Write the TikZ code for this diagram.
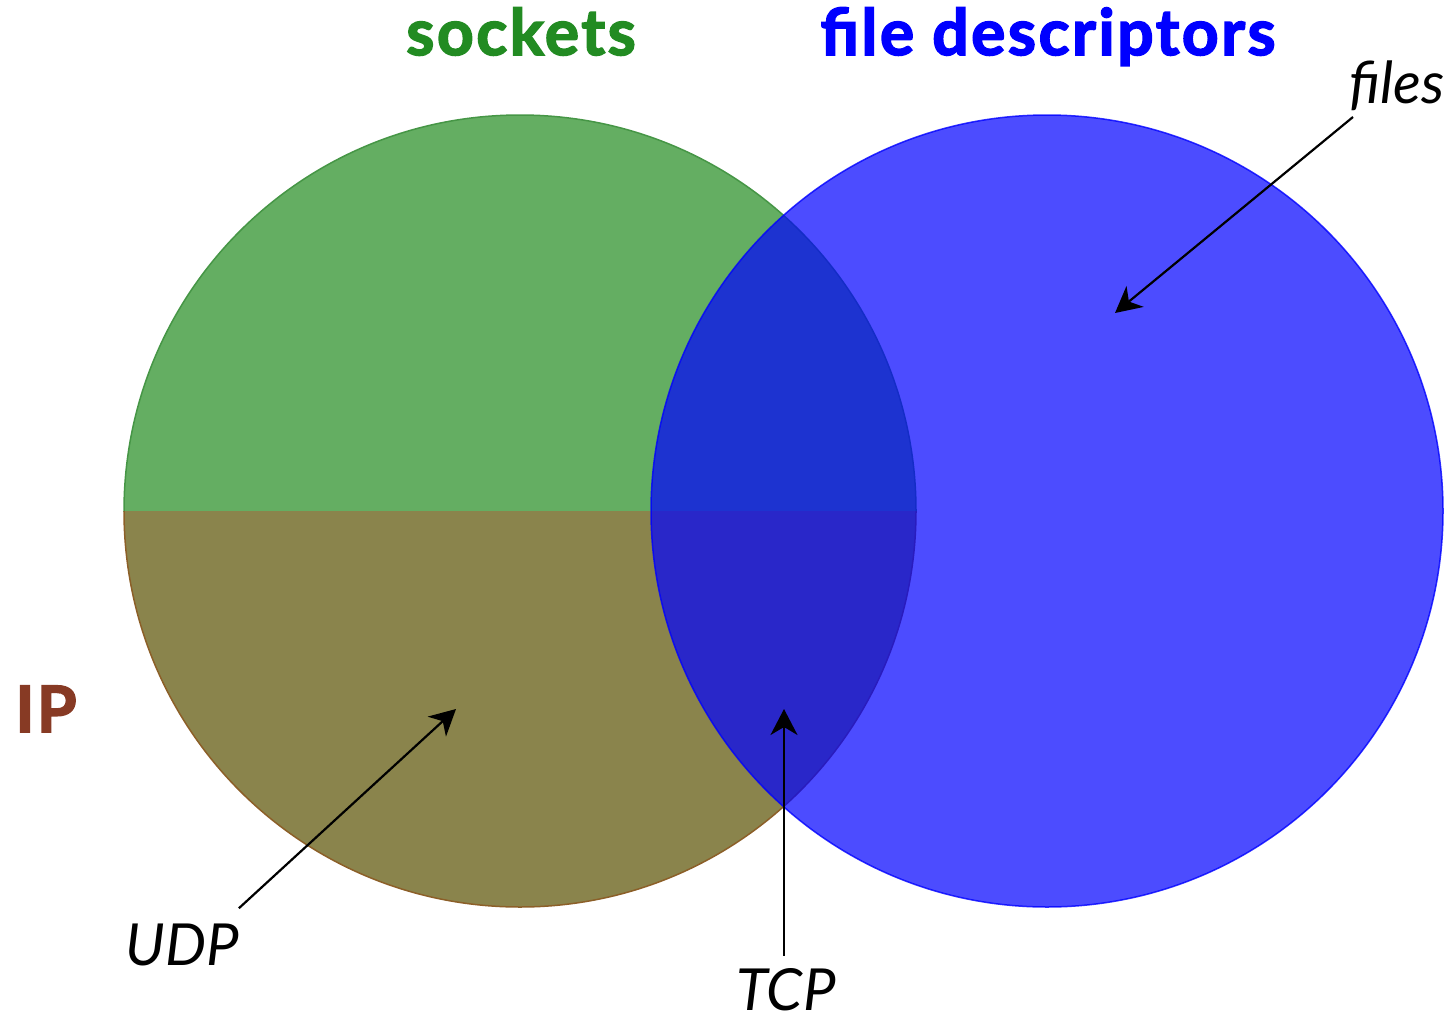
\documentclass[tikz,border=0pt]{standalone}
\usepackage{fontspec}
\setmainfont{Lato}
\newfontfamily\headfont[FakeBold=2.5, LetterSpace=4]{Lato Bold}
\usetikzlibrary{arrows.meta}

\definecolor{sockgreen}{RGB}{100,174,98}
\definecolor{sockedge}{RGB}{70,150,70}
\definecolor{ipolive}{RGB}{138,132,76}
\definecolor{ipedge}{RGB}{140,95,40}
\definecolor{iprust}{RGB}{135,58,36}
\definecolor{headgreen}{RGB}{34,139,34}
\definecolor{fdblue}{RGB}{0,0,255}

\tikzset{
  heading/.style={font=\fontsize{64}{64}\headfont, inner sep=0pt, anchor=base},
  proto/.style={font=\fontsize{58}{58}\selectfont\itshape, inner sep=0pt, anchor=base},
  pointer/.style={line width=2.2pt, -{Stealth[length=26pt,width=27pt,inset=8pt]}},
}

\begin{document}
\begin{tikzpicture}[x=1pt,y=-1pt]
\useasboundingbox (0,0) rectangle (1451,1020);
\coordinate (L) at (520,511);
\coordinate (R) at (1047,511);

\coordinate (files-tip) at (1115,313);
\coordinate (udp-tip) at (456,709);
\coordinate (tcp-tip) at (784,709);

% sockets circle: top half green, bottom half olive (IP)
\begin{scope}
\clip (0,0) rectangle (1451,511);
\filldraw[fill=sockgreen, draw=sockedge, line width=1.5pt] (L) circle[radius=396];
\end{scope}
\begin{scope}
\clip (0,511) rectangle (1451,1020);
\filldraw[fill=ipolive, draw=ipedge, line width=1.5pt] (L) circle[radius=396];
\end{scope}

% file descriptors circle
\filldraw[fill=fdblue, draw=fdblue, fill opacity=0.7, draw opacity=0.8, line width=1.5pt] (R) circle[radius=396];

\node[heading, text=headgreen] (sockets) at (521,55) {sockets};
\node[heading, text=fdblue] (fds) at (1048,55) {file descriptors};
\node[heading, text=iprust] (ip) at (46,732) {IP};

\node[proto] (files) at (1397,103) {files};
\node[proto] (udp) at (182,965) {UDP};
\node[proto] (tcp) at (786,1010) {TCP};

\draw[pointer] ([shift={(-44,14)}]files.base) -- (files-tip);
\draw[pointer] ([shift={(0,-15)}]udp.north east) -- (udp-tip);
\draw[pointer] ([shift={(-2,-12)}]tcp.north) -- (tcp-tip);
\end{tikzpicture}
\end{document}
